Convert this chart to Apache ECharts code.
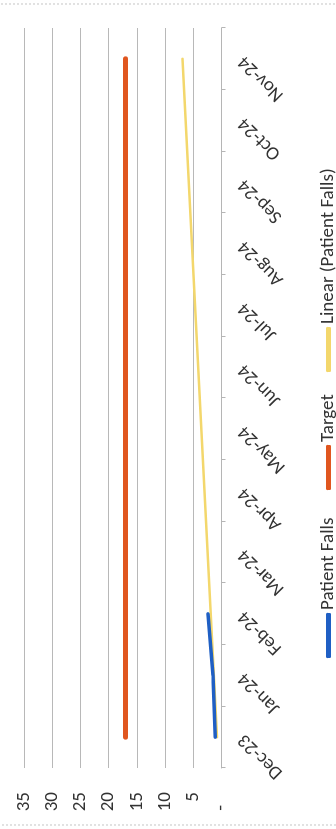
<!DOCTYPE html>
<html>
<head>
<meta charset="utf-8">
<script src="https://cdn.jsdelivr.net/npm/echarts@6/dist/echarts.min.js"></script>
<style>
html, body { margin: 0; padding: 0; width: 336px; height: 829px; overflow: hidden; background: #ffffff; }
#chart { position: absolute; left: 0; top: 0; width: 829px; height: 336px;
  transform-origin: 0 0; transform: translate(0px, 829px) rotate(-90deg); background: #ffffff; }
</style>
</head>
<body>
<div id="chart"></div>
<script>
// ---- data ----
const categories = ['Dec-23', 'Jan-24', 'Feb-24', 'Mar-24', 'Apr-24', 'May-24', 'Jun-24', 'Jul-24', 'Aug-24', 'Sep-24', 'Oct-24', 'Nov-24'];
const patientFalls = [1.1, 1.5, 2.4, null, null, null, null, null, null, null, null, null];
const target = [17, 17, 17, 17, 17, 17, 17, 17, 17, 17, 17, 17];
const linearTrend = [0.8, null, null, null, null, null, null, null, null, null, null, 6.9];
const valueTicks = [0, 5, 10, 15, 20, 25, 30, 35];
const seriesNames = ['Patient Falls', 'Target', 'Linear (Patient Falls)'];
const seriesColors = ['#1f5fc4', '#e0561f', '#f3d76c'];

const FONT = 'Carlito, Lato, sans-serif';
const TXT = '#333333';
const FS = 19;

const legendLefts = [166, 334, 452];

const chart = echarts.init(document.getElementById('chart'), null, { width: 829, height: 336, renderer: 'canvas' });
chart.setOption({
  animation: false,
  backgroundColor: '#ffffff',
  grid: { left: 61, right: 28, top: 24, bottom: 114.5, containLabel: false },
  xAxis: {
    type: 'category',
    data: categories,
    boundaryGap: true,
    axisLine: { show: true, lineStyle: { color: '#b5b5b5', width: 1 } },
    axisTick: { show: true, alignWithLabel: false, length: 4, lineStyle: { color: '#b5b5b5' } },
    axisLabel: { rotate: 45, margin: 20, fontSize: FS, fontFamily: FONT, color: TXT, interval: 0 },
    splitLine: { show: false }
  },
  yAxis: {
    type: 'value',
    min: valueTicks[0],
    max: valueTicks[valueTicks.length - 1],
    interval: 5,
    axisLine: { show: false },
    axisTick: { show: false },
    axisLabel: {
      margin: 24, fontSize: FS, fontFamily: FONT, color: TXT,
      formatter: function (v) { return v === 0 ? '-   ' : String(v); }
    },
    splitLine: { show: true, lineStyle: { color: '#b8b8b8', width: 1 } }
  },
  legend: seriesNames.map(function (n, i) {
    return {
      show: true,
      data: [{ name: n, icon: 'roundRect', itemStyle: { color: seriesColors[i] } }],
      left: legendLefts[i],
      top: 314,
      itemWidth: 45,
      itemHeight: 5,
      textStyle: { fontSize: FS, fontFamily: FONT, color: TXT, padding: [0, 0, 0, -2] }
    };
  }),
  graphic: [{
    type: 'rect',
    shape: { x: 4, y: -10, width: 821, height: 360 },
    style: { fill: 'none', stroke: '#c4c4c4', lineWidth: 1, lineDash: [2, 2] },
    silent: true
  }],
  series: [
    {
      name: seriesNames[2], type: 'line', data: linearTrend, connectNulls: true,
      symbol: 'none', z: 2,
      lineStyle: { color: seriesColors[2], width: 2.5, cap: 'round' },
      itemStyle: { color: seriesColors[2] }
    },
    {
      name: seriesNames[1], type: 'line', data: target,
      symbol: 'none', z: 3,
      lineStyle: { color: seriesColors[1], width: 5, cap: 'round' },
      itemStyle: { color: seriesColors[1] }
    },
    {
      name: seriesNames[0], type: 'line', data: patientFalls,
      symbol: 'none', z: 4,
      lineStyle: { color: seriesColors[0], width: 3.5, cap: 'round', join: 'round' },
      itemStyle: { color: seriesColors[0] }
    }
  ]
});
</script>
</body>
</html>
